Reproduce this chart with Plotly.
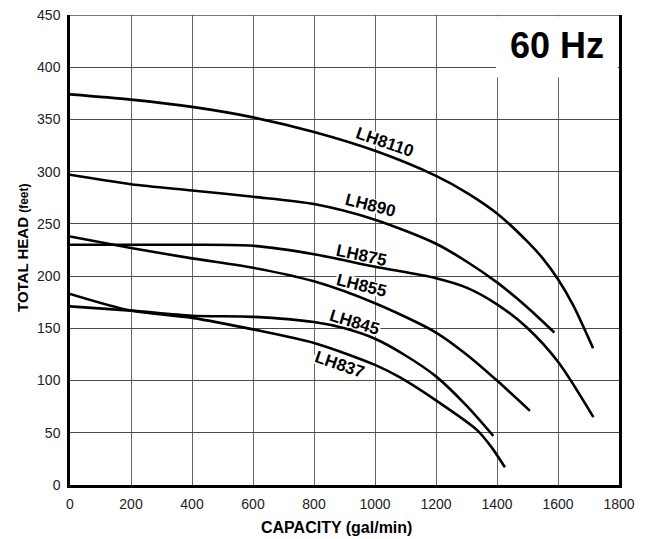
import math
import plotly.graph_objects as go

# ---- data ----
lh8110_x = [0, 200, 400, 600, 800, 1000, 1200, 1300, 1400, 1500, 1550, 1600, 1650, 1715]
lh8110_y = [374, 369, 362, 352, 338, 320, 296, 280, 260, 233, 217, 197, 172, 131]

lh890_x = [0, 200, 400, 600, 800, 1000, 1200, 1300, 1400, 1464, 1541, 1588]
lh890_y = [297, 288, 282, 276, 269, 254, 231, 214, 194, 179, 159, 146]

lh875_x = [0, 200, 400, 600, 800, 1000, 1200, 1300, 1400, 1497, 1600, 1716]
lh875_y = [230, 230, 230, 229, 221, 209, 198, 189, 173, 151, 118, 65]

lh855_x = [0, 200, 400, 600, 800, 1000, 1200, 1300, 1400, 1508]
lh855_y = [238, 227, 217, 208, 195, 174, 146, 125, 100, 71]

lh845_x = [0, 200, 400, 600, 800, 900, 1000, 1100, 1200, 1300, 1388]
lh845_y = [171, 167, 162, 161, 156, 150, 140, 124, 104, 76, 47]

lh837_x = [0, 200, 400, 600, 800, 1000, 1082, 1200, 1333, 1380, 1426]
lh837_y = [183, 167, 160, 149, 136, 115, 103, 81, 53, 37, 17]

series_names = ["LH8110", "LH890", "LH875", "LH855", "LH845", "LH837"]
series_x = [lh8110_x, lh890_x, lh875_x, lh855_x, lh845_x, lh837_x]
series_y = [lh8110_y, lh890_y, lh875_y, lh855_y, lh845_y, lh837_y]

# label positions (data coords) and angles
label_x = [1034, 986, 956, 956, 934, 882]
label_y = [328, 268, 220, 191, 156, 115]
label_angle = [19, 14, 12, 14, 17, 19]

x_ticks = [0, 200, 400, 600, 800, 1000, 1200, 1400, 1600, 1800]
y_ticks = [0, 50, 100, 150, 200, 250, 300, 350, 400, 450]

FONT = "Liberation Sans, Arial, sans-serif"
LABEL_SIZE = 17

# plot geometry (for white patches behind labels that hide only the grid)
PLOT_W, PLOT_H = 549.0, 470.0
XR, YR = 1800.0, 450.0
px_x = PLOT_W / XR
px_y = PLOT_H / YR
char_w = {"L": 0.611, "H": 0.722}

fig = go.Figure()

for name, lx, ly, ang in zip(series_names, label_x, label_y, label_angle):
    w = sum(char_w.get(c, 0.556) for c in name) * LABEL_SIZE + 2
    h = 14.0
    t = math.radians(ang)
    pts = []
    for sx, sy in [(-1, -1), (1, -1), (1, 1), (-1, 1)]:
        ox, oy = sx * w / 2, sy * h / 2
        rx = ox * math.cos(t) - oy * math.sin(t)
        ry = ox * math.sin(t) + oy * math.cos(t)
        pts.append((lx + rx / px_x, ly - ry / px_y))
    path = "M " + " L ".join(f"{a:.2f},{b:.2f}" for a, b in pts) + " Z"
    fig.add_shape(type="path", path=path, xref="x", yref="y",
                  fillcolor="white", line=dict(width=0), layer="between")

for name, xs, ys in zip(series_names, series_x, series_y):
    fig.add_trace(go.Scatter(
        x=xs, y=ys, mode="lines", name=name,
        line=dict(color="black", width=2.6, shape="spline", smoothing=0.8),
        showlegend=False, hoverinfo="skip"))

for name, lx, ly, ang in zip(series_names, label_x, label_y, label_angle):
    fig.add_annotation(
        x=lx, y=ly, xref="x", yref="y", text="<b>" + name + "</b>",
        showarrow=False, textangle=ang,
        font=dict(family=FONT, size=LABEL_SIZE, color="black"))

# 60 Hz box
fig.add_shape(type="rect", xref="x", yref="y", x0=1397, x1=1796, y0=390.5, y1=448.8,
              fillcolor="white", line=dict(width=0), layer="between")
# top border
fig.add_shape(type="line", xref="x", yref="y", x0=0, x1=1800, y0=450, y1=450,
              line=dict(color="#4a4a4a", width=1.6), layer="above")
fig.add_annotation(
    x=1598, y=421, xref="x", yref="y", text="<b>60 Hz</b>", showarrow=False,
    font=dict(family=FONT, size=36, color="black"))

# axis titles
fig.add_annotation(
    x=0.486, y=0, xref="paper", yref="paper", xanchor="center", yanchor="middle",
    yshift=-42, showarrow=False, text="<b>CAPACITY (gal/min)</b>",
    font=dict(family=FONT, size=16, color="black"))
fig.add_annotation(
    x=0, y=0.5, xref="paper", yref="paper", xanchor="center", yanchor="middle",
    xshift=-47.5, yshift=2.5, textangle=-90, showarrow=False,
    text="<b>TOTAL HEAD <span style='font-size:12px'>(feet)</span></b>",
    font=dict(family=FONT, size=15, color="black"))

fig.update_xaxes(
    range=[0, 1800], tickvals=x_ticks, ticktext=[str(v) for v in x_ticks],
    showgrid=True, gridcolor="#666666", gridwidth=1.4, zeroline=False,
    showline=True, linecolor="black", linewidth=2.5, mirror=False,
    ticks="", ticklabelstandoff=4, ticklabeloverflow="allow", automargin=False,
    tickfont=dict(family=FONT, size=14, color="#222222"))
fig.update_yaxes(
    range=[0, 450], tickvals=y_ticks, ticktext=[str(v) for v in y_ticks],
    showgrid=True, gridcolor="#4a4a4a", gridwidth=1.4, zeroline=False,
    showline=True, linecolor="black", linewidth=2.5, mirror=True,
    ticks="", ticklabelstandoff=4, ticklabeloverflow="allow", automargin=False,
    tickfont=dict(family=FONT, size=14, color="#222222"))

# the page body has an 8px default margin, so the figure is sized/shifted to compensate
fig.update_layout(
    width=637, height=531,
    margin=dict(l=62, r=26, t=7, b=54),
    paper_bgcolor="white", plot_bgcolor="white",
    showlegend=False)

fig.write_html("out.html")
